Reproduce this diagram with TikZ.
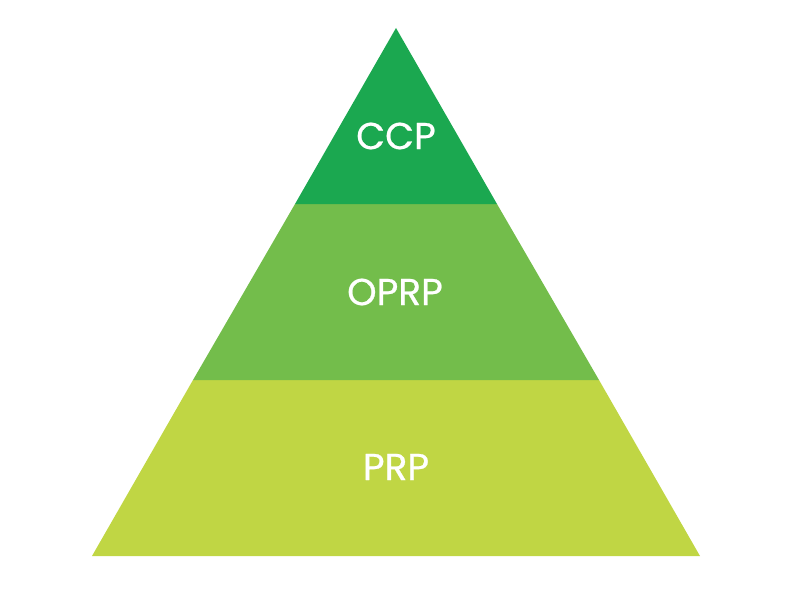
\documentclass[tikz,border=0pt]{standalone}
\usepackage{fontspec}
\setmainfont{Poppins}
\newfontfamily\pyrfont{Poppins}[FakeBold=0.6]
\usepackage{tikz}
\usetikzlibrary{positioning, calc}

\definecolor{ccpgreen}{RGB}{27,168,80}
\definecolor{oprpgreen}{RGB}{115,189,75}
\definecolor{prpgreen}{RGB}{192,214,68}

\begin{document}
\begin{tikzpicture}[
  x=0.03cm, y=-0.03cm,
  band/.style = {draw=none},
  label/.style = {text=white, font=\pyrfont\fontsize{32}{36}\selectfont}
]

  % Page frame
  \useasboundingbox (0,0) rectangle (800,590);

  % Corners of the pyramid
  \coordinate (apex) at (396,28);
  \coordinate (ccp_l) at (295,204);
  \coordinate (ccp_r) at (497,204);
  \coordinate (oprp_l) at (193,380);
  \coordinate (oprp_r) at (599,380);
  \coordinate (base_l) at (92,556);
  \coordinate (base_r) at (700,556);

  % Three bands
  \fill[band, prpgreen] (oprp_l) -- (oprp_r) -- (base_r) -- (base_l) -- cycle;
  \fill[band, oprpgreen] (ccp_l) -- (ccp_r) -- (oprp_r) -- (oprp_l) -- cycle;
  \fill[band, ccpgreen] (apex) -- (ccp_r) -- (ccp_l) -- cycle;

  % Labels
  \node[label] (ccp) at (396,136) {CCP};
  \node[label] (oprp) at (395,292) {OPRP};
  \node[label] (prp) at (396,467) {PRP};

\end{tikzpicture}
\end{document}
